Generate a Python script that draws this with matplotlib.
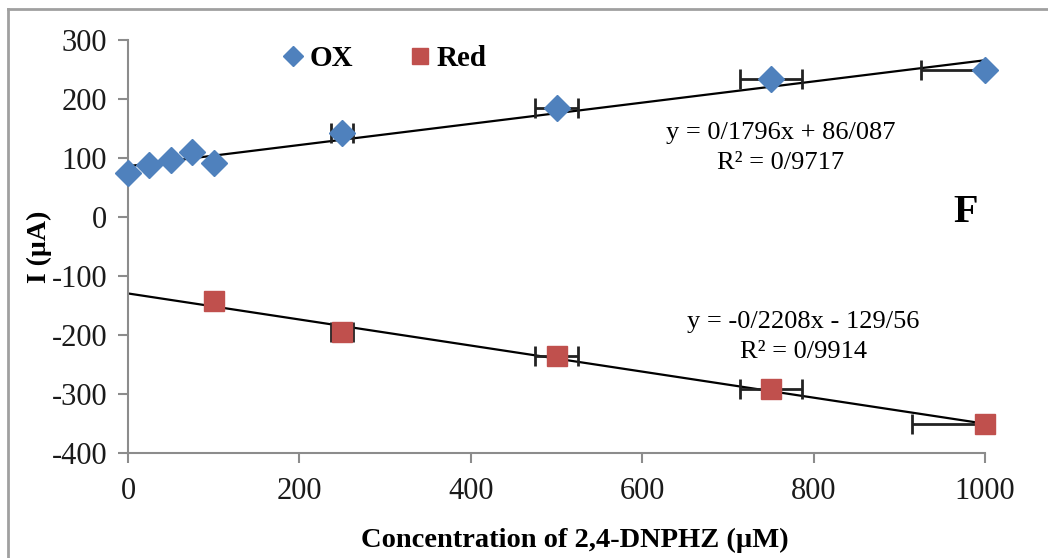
import matplotlib.pyplot as plt
import numpy as np
from matplotlib.lines import Line2D

# data
ox_x = [0, 25, 50, 75, 100, 250, 500, 750, 1000]
ox_y = [75, 88, 97, 110, 92, 143, 184, 234, 250]
ox_xerr = [0, 0, 0, 0, 0, 13, 25, 36, 75]

red_x = [100, 250, 500, 750, 1000]
red_y = [-143, -195, -235, -291, -351]
red_xerr = [0, 13, 25, 36, 85]

# trendline coefficients printed on the chart
ox_fit = (0.1796, 86.087)
red_fit = (-0.2208, -129.56)

plt.rcParams['font.family'] = ['Liberation Serif', 'DejaVu Serif']
plt.rcParams['axes.unicode_minus'] = False

fig = plt.figure(figsize=(10.48, 5.58), dpi=100)
ax = fig.add_axes([128/1048, 1 - 453/558, (985 - 128)/1048, (453 - 40)/558])

blue = '#4F81BD'
red = '#C0504D'
grey = '#8C8C8C'

xs = np.array([0, 1000])
ax.plot(xs, ox_fit[0]*xs + ox_fit[1], color='black', lw=1.6, zorder=2)
ax.plot(xs, red_fit[0]*xs + red_fit[1], color='black', lw=1.6, zorder=2)

ax.errorbar(ox_x, ox_y, xerr=ox_xerr, fmt='none', ecolor='#222222',
            elinewidth=2, capsize=7, capthick=2, zorder=3)
ax.errorbar(red_x, red_y, xerr=red_xerr, fmt='none', ecolor='#222222',
            elinewidth=2, capsize=7, capthick=2, zorder=3)

ax.plot(ox_x, ox_y, 'D', color=blue, ms=13, ls='none', label='OX', zorder=4, clip_on=False)
ax.plot(red_x, red_y, 's', color=red, ms=15, ls='none', label='Red', zorder=4, clip_on=False)

ax.set_xlim(0, 1000)
ax.set_ylim(-400, 300)
ax.set_xticks(np.arange(0, 1001, 200))
ax.set_yticks(np.arange(-400, 301, 100))

for s in ['top', 'right']:
    ax.spines[s].set_visible(False)
for s in ['left', 'bottom']:
    ax.spines[s].set_color(grey)
    ax.spines[s].set_linewidth(1.5)
ax.tick_params(axis='both', colors=grey, length=7, width=1.5, direction='out',
               labelsize=22, labelcolor='#1a1a1a')
ax.tick_params(axis='x', pad=10)
ax.tick_params(axis='y', pad=8)

ax.set_xlabel('Concentration of 2,4-DNPHZ (µM)', fontsize=20.5, fontweight='bold')
ax.xaxis.label.set_va('center')
ax.xaxis.set_label_coords(0.521, -(540 - 453) / 413)
ax.set_ylabel('I (µA)', fontsize=20, fontweight='bold')
ax.yaxis.set_label_coords(-0.089, 0.5)

ax.text(762, 143, 'y = 0/1796x + 86/087', fontsize=19, ha='center', va='center')
ax.text(762, 92, 'R² = 0/9717', fontsize=19, ha='center', va='center')
ax.text(788, -178, 'y = -0/2208x - 129/56', fontsize=19, ha='center', va='center')
ax.text(788, -229, 'R² = 0/9914', fontsize=19, ha='center', va='center')
ax.text(977, 7, 'F', fontsize=29, fontweight='bold', ha='center', va='center')

leg = ax.legend(loc='upper left', bbox_to_anchor=(0.142, 1.052), ncol=2, frameon=False,
                prop={'weight': 'bold', 'size': 21}, handletextpad=-0.05, handlelength=1.2,
                columnspacing=1.7, markerscale=0.8)

# outer chart frame
fig.add_artist(Line2D([8/1048, 1], [1 - 9/558, 1 - 9/558], color='#A0A0A0', lw=2))
fig.add_artist(Line2D([8/1048, 8/1048], [0, 1 - 9/558], color='#A0A0A0', lw=2))

fig.savefig('out.png', dpi=100)
